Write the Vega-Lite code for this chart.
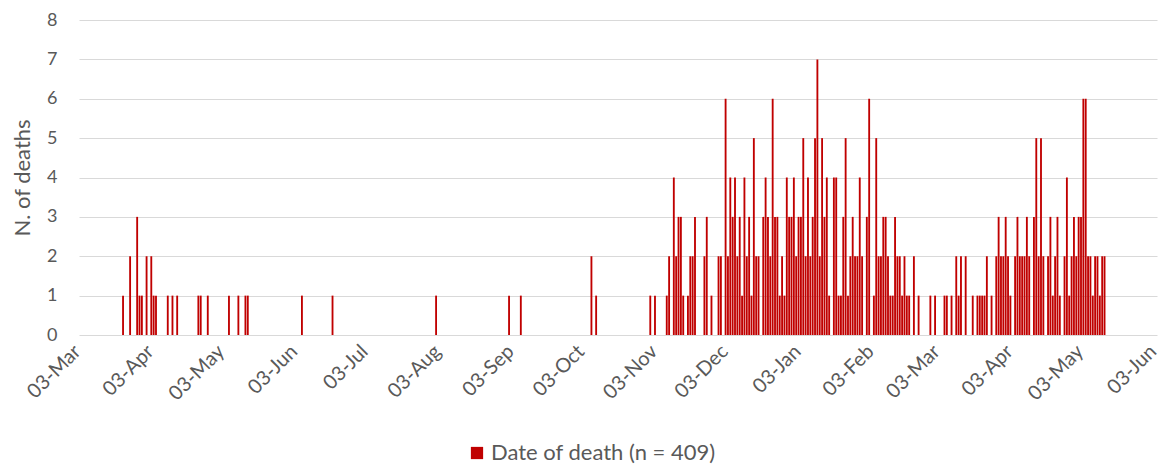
{
  "$schema": "https://vega.github.io/schema/vega-lite/v6.json",
  "width": 1078,
  "height": 315,
  "autosize": {"type": "none"},
  "padding": {"left": 79, "top": 20, "right": 3, "bottom": 131},
  "background": "white",
  "config": {
    "view": {"stroke": null},
    "font": "Lato",
    "axis": {"labelFont": "Lato", "titleFont": "Lato", "labelColor": "#595959", "titleColor": "#595959"},
    "legend": {"labelFont": "Lato"}
  },
  "data": {
    "values": [
      {"date": "2020-03-21", "deaths": 1},
      {"date": "2020-03-24", "deaths": 2},
      {"date": "2020-03-27", "deaths": 3},
      {"date": "2020-03-28", "deaths": 1},
      {"date": "2020-03-29", "deaths": 1},
      {"date": "2020-03-31", "deaths": 2},
      {"date": "2020-04-02", "deaths": 2},
      {"date": "2020-04-03", "deaths": 1},
      {"date": "2020-04-04", "deaths": 1},
      {"date": "2020-04-09", "deaths": 1},
      {"date": "2020-04-11", "deaths": 1},
      {"date": "2020-04-13", "deaths": 1},
      {"date": "2020-04-22", "deaths": 1},
      {"date": "2020-04-23", "deaths": 1},
      {"date": "2020-04-26", "deaths": 1},
      {"date": "2020-05-05", "deaths": 1},
      {"date": "2020-05-09", "deaths": 1},
      {"date": "2020-05-12", "deaths": 1},
      {"date": "2020-05-13", "deaths": 1},
      {"date": "2020-06-05", "deaths": 1},
      {"date": "2020-06-18", "deaths": 1},
      {"date": "2020-08-01", "deaths": 1},
      {"date": "2020-09-01", "deaths": 1},
      {"date": "2020-09-06", "deaths": 1},
      {"date": "2020-10-06", "deaths": 2},
      {"date": "2020-10-08", "deaths": 1},
      {"date": "2020-10-31", "deaths": 1},
      {"date": "2020-11-02", "deaths": 1},
      {"date": "2020-11-07", "deaths": 1},
      {"date": "2020-11-08", "deaths": 2},
      {"date": "2020-11-10", "deaths": 4},
      {"date": "2020-11-11", "deaths": 2},
      {"date": "2020-11-12", "deaths": 3},
      {"date": "2020-11-13", "deaths": 3},
      {"date": "2020-11-14", "deaths": 1},
      {"date": "2020-11-16", "deaths": 1},
      {"date": "2020-11-17", "deaths": 2},
      {"date": "2020-11-18", "deaths": 2},
      {"date": "2020-11-19", "deaths": 3},
      {"date": "2020-11-23", "deaths": 2},
      {"date": "2020-11-24", "deaths": 3},
      {"date": "2020-11-26", "deaths": 1},
      {"date": "2020-11-29", "deaths": 2},
      {"date": "2020-11-30", "deaths": 2},
      {"date": "2020-12-02", "deaths": 6},
      {"date": "2020-12-03", "deaths": 2},
      {"date": "2020-12-04", "deaths": 4},
      {"date": "2020-12-05", "deaths": 3},
      {"date": "2020-12-06", "deaths": 4},
      {"date": "2020-12-07", "deaths": 2},
      {"date": "2020-12-08", "deaths": 3},
      {"date": "2020-12-09", "deaths": 1},
      {"date": "2020-12-10", "deaths": 4},
      {"date": "2020-12-11", "deaths": 2},
      {"date": "2020-12-12", "deaths": 3},
      {"date": "2020-12-13", "deaths": 1},
      {"date": "2020-12-14", "deaths": 5},
      {"date": "2020-12-15", "deaths": 2},
      {"date": "2020-12-16", "deaths": 2},
      {"date": "2020-12-18", "deaths": 3},
      {"date": "2020-12-19", "deaths": 4},
      {"date": "2020-12-20", "deaths": 3},
      {"date": "2020-12-21", "deaths": 2},
      {"date": "2020-12-22", "deaths": 6},
      {"date": "2020-12-23", "deaths": 3},
      {"date": "2020-12-24", "deaths": 3},
      {"date": "2020-12-25", "deaths": 1},
      {"date": "2020-12-26", "deaths": 2},
      {"date": "2020-12-27", "deaths": 1},
      {"date": "2020-12-28", "deaths": 4},
      {"date": "2020-12-29", "deaths": 3},
      {"date": "2020-12-30", "deaths": 3},
      {"date": "2020-12-31", "deaths": 4},
      {"date": "2021-01-01", "deaths": 2},
      {"date": "2021-01-02", "deaths": 3},
      {"date": "2021-01-03", "deaths": 3},
      {"date": "2021-01-04", "deaths": 5},
      {"date": "2021-01-05", "deaths": 2},
      {"date": "2021-01-06", "deaths": 4},
      {"date": "2021-01-07", "deaths": 2},
      {"date": "2021-01-08", "deaths": 3},
      {"date": "2021-01-09", "deaths": 5},
      {"date": "2021-01-10", "deaths": 7},
      {"date": "2021-01-11", "deaths": 2},
      {"date": "2021-01-12", "deaths": 5},
      {"date": "2021-01-13", "deaths": 3},
      {"date": "2021-01-14", "deaths": 4},
      {"date": "2021-01-15", "deaths": 1},
      {"date": "2021-01-17", "deaths": 4},
      {"date": "2021-01-18", "deaths": 4},
      {"date": "2021-01-19", "deaths": 1},
      {"date": "2021-01-20", "deaths": 1},
      {"date": "2021-01-21", "deaths": 3},
      {"date": "2021-01-22", "deaths": 5},
      {"date": "2021-01-23", "deaths": 1},
      {"date": "2021-01-24", "deaths": 2},
      {"date": "2021-01-25", "deaths": 3},
      {"date": "2021-01-26", "deaths": 2},
      {"date": "2021-01-27", "deaths": 2},
      {"date": "2021-01-28", "deaths": 4},
      {"date": "2021-01-29", "deaths": 2},
      {"date": "2021-01-31", "deaths": 3},
      {"date": "2021-02-01", "deaths": 6},
      {"date": "2021-02-03", "deaths": 1},
      {"date": "2021-02-04", "deaths": 5},
      {"date": "2021-02-05", "deaths": 2},
      {"date": "2021-02-06", "deaths": 2},
      {"date": "2021-02-07", "deaths": 3},
      {"date": "2021-02-08", "deaths": 3},
      {"date": "2021-02-09", "deaths": 2},
      {"date": "2021-02-10", "deaths": 1},
      {"date": "2021-02-11", "deaths": 1},
      {"date": "2021-02-12", "deaths": 3},
      {"date": "2021-02-13", "deaths": 2},
      {"date": "2021-02-14", "deaths": 2},
      {"date": "2021-02-15", "deaths": 1},
      {"date": "2021-02-16", "deaths": 2},
      {"date": "2021-02-17", "deaths": 1},
      {"date": "2021-02-18", "deaths": 1},
      {"date": "2021-02-20", "deaths": 2},
      {"date": "2021-02-22", "deaths": 1},
      {"date": "2021-02-27", "deaths": 1},
      {"date": "2021-03-01", "deaths": 1},
      {"date": "2021-03-05", "deaths": 1},
      {"date": "2021-03-06", "deaths": 1},
      {"date": "2021-03-08", "deaths": 1},
      {"date": "2021-03-10", "deaths": 2},
      {"date": "2021-03-11", "deaths": 1},
      {"date": "2021-03-12", "deaths": 2},
      {"date": "2021-03-14", "deaths": 2},
      {"date": "2021-03-17", "deaths": 1},
      {"date": "2021-03-19", "deaths": 1},
      {"date": "2021-03-20", "deaths": 1},
      {"date": "2021-03-21", "deaths": 1},
      {"date": "2021-03-22", "deaths": 1},
      {"date": "2021-03-23", "deaths": 2},
      {"date": "2021-03-25", "deaths": 1},
      {"date": "2021-03-27", "deaths": 2},
      {"date": "2021-03-28", "deaths": 3},
      {"date": "2021-03-29", "deaths": 2},
      {"date": "2021-03-30", "deaths": 2},
      {"date": "2021-03-31", "deaths": 3},
      {"date": "2021-04-01", "deaths": 2},
      {"date": "2021-04-02", "deaths": 1},
      {"date": "2021-04-04", "deaths": 2},
      {"date": "2021-04-05", "deaths": 3},
      {"date": "2021-04-06", "deaths": 2},
      {"date": "2021-04-07", "deaths": 2},
      {"date": "2021-04-08", "deaths": 2},
      {"date": "2021-04-09", "deaths": 3},
      {"date": "2021-04-10", "deaths": 2},
      {"date": "2021-04-12", "deaths": 3},
      {"date": "2021-04-13", "deaths": 5},
      {"date": "2021-04-14", "deaths": 2},
      {"date": "2021-04-15", "deaths": 5},
      {"date": "2021-04-16", "deaths": 2},
      {"date": "2021-04-18", "deaths": 2},
      {"date": "2021-04-19", "deaths": 3},
      {"date": "2021-04-20", "deaths": 1},
      {"date": "2021-04-21", "deaths": 2},
      {"date": "2021-04-22", "deaths": 3},
      {"date": "2021-04-23", "deaths": 1},
      {"date": "2021-04-25", "deaths": 2},
      {"date": "2021-04-26", "deaths": 4},
      {"date": "2021-04-27", "deaths": 1},
      {"date": "2021-04-28", "deaths": 2},
      {"date": "2021-04-29", "deaths": 3},
      {"date": "2021-04-30", "deaths": 2},
      {"date": "2021-05-01", "deaths": 3},
      {"date": "2021-05-02", "deaths": 3},
      {"date": "2021-05-03", "deaths": 6},
      {"date": "2021-05-04", "deaths": 6},
      {"date": "2021-05-05", "deaths": 2},
      {"date": "2021-05-06", "deaths": 2},
      {"date": "2021-05-07", "deaths": 1},
      {"date": "2021-05-08", "deaths": 2},
      {"date": "2021-05-09", "deaths": 2},
      {"date": "2021-05-10", "deaths": 1},
      {"date": "2021-05-11", "deaths": 2},
      {"date": "2021-05-12", "deaths": 2}
    ]
  },
  "mark": {"type": "bar", "binSpacing": 0.5},
  "encoding": {
    "x": {
      "field": "date",
      "timeUnit": "utcyearmonthdate",
      "type": "temporal",
      "title": null,
      "scale": {
        "type": "utc",
        "nice": false,
        "domain": [
          {"year": 2020, "month": 3, "date": 3, "utc": true},
          {"year": 2021, "month": 6, "date": 4, "utc": true}
        ]
      },
      "axis": {
        "values": [
          {"year": 2020, "month": 3, "date": 3, "hours": 12, "utc": true},
          {"year": 2020, "month": 4, "date": 3, "hours": 12, "utc": true},
          {"year": 2020, "month": 5, "date": 3, "hours": 12, "utc": true},
          {"year": 2020, "month": 6, "date": 3, "hours": 12, "utc": true},
          {"year": 2020, "month": 7, "date": 3, "hours": 12, "utc": true},
          {"year": 2020, "month": 8, "date": 3, "hours": 12, "utc": true},
          {"year": 2020, "month": 9, "date": 3, "hours": 12, "utc": true},
          {"year": 2020, "month": 10, "date": 3, "hours": 12, "utc": true},
          {"year": 2020, "month": 11, "date": 3, "hours": 12, "utc": true},
          {"year": 2020, "month": 12, "date": 3, "hours": 12, "utc": true},
          {"year": 2021, "month": 1, "date": 3, "hours": 12, "utc": true},
          {"year": 2021, "month": 2, "date": 3, "hours": 12, "utc": true},
          {"year": 2021, "month": 3, "date": 3, "hours": 12, "utc": true},
          {"year": 2021, "month": 4, "date": 3, "hours": 12, "utc": true},
          {"year": 2021, "month": 5, "date": 3, "hours": 12, "utc": true},
          {"year": 2021, "month": 6, "date": 3, "hours": 12, "utc": true}
        ],
        "labelExpr": "utcFormat(datum.value, '%d-%b')",
        "labelAngle": -45,
        "labelAlign": "right",
        "labelBaseline": "top",
        "labelFontSize": 20,
        "labelPadding": 6,
        "labelOffset": -10,
        "labelOverlap": false,
        "labelFlush": false,
        "labelBound": false,
        "ticks": false,
        "domain": false,
        "grid": false
      }
    },
    "y": {
      "field": "deaths",
      "type": "quantitative",
      "title": "N. of deaths",
      "scale": {"domain": [0, 8], "nice": false},
      "axis": {
        "values": [0, 1, 2, 3, 4, 5, 6, 7, 8],
        "grid": true,
        "gridColor": "#D9D9D9",
        "gridWidth": 1.2,
        "domain": false,
        "ticks": false,
        "labelFontSize": 18,
        "labelPadding": 22,
        "titleFontSize": 22,
        "titleFontWeight": "normal",
        "titlePadding": 12
      }
    },
    "color": {
      "datum": "Date of death (n = 409)",
      "type": "nominal",
      "scale": {"range": ["#C00000"]},
      "legend": {
        "title": null,
        "orient": "none",
        "legendX": 387,
        "legendY": 422,
        "symbolType": "square",
        "symbolSize": 150,
        "symbolStrokeWidth": 0,
        "labelOffset": 3,
        "labelFontSize": 22,
        "labelColor": "#595959",
        "labelLimit": 400
      }
    }
  }
}
